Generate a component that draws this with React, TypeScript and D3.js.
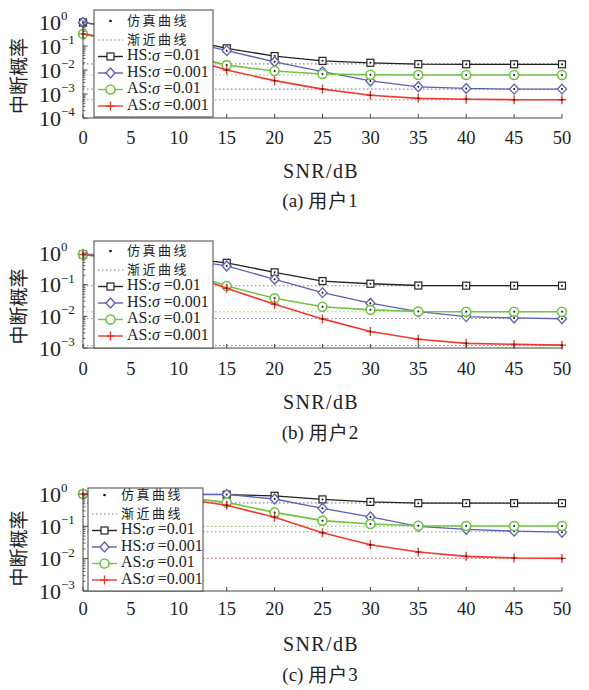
import React from 'react';
import * as d3 from 'd3';

// SNR 横轴
const snr = [0, 5, 10, 15, 20, 25, 30, 35, 40, 45, 50];
const xTicks = [0, 5, 10, 15, 20, 25, 30, 35, 40, 45, 50];

// 用户1
const u1HS01 = [0.95, 0.55, 0.22, 0.08, 0.038, 0.024, 0.02, 0.0175, 0.0173, 0.0173, 0.0173];
const u1HS001 = [0.95, 0.5, 0.19, 0.064, 0.022, 0.0085, 0.0035, 0.002, 0.0017, 0.0016, 0.0016];
const u1AS01 = [0.32, 0.15, 0.05, 0.016, 0.0091, 0.0068, 0.0063, 0.0062, 0.0062, 0.0062, 0.0062];
const u1AS001 = [0.32, 0.13, 0.04, 0.01, 0.0036, 0.0016, 0.00089, 0.00066, 0.0006, 0.00058, 0.00058];
const u1Asym = [0.018, 0.0016, 0.0062, 0.00058];

// 用户2
const u2HS01 = [0.9, 0.85, 0.72, 0.49, 0.245, 0.13, 0.107, 0.094, 0.093, 0.093, 0.093];
const u2HS001 = [0.9, 0.83, 0.65, 0.39, 0.148, 0.056, 0.026, 0.014, 0.0098, 0.0089, 0.0084];
const u2AS01 = [0.9, 0.6, 0.3, 0.091, 0.037, 0.02, 0.016, 0.0142, 0.014, 0.014, 0.014];
const u2AS001 = [0.9, 0.58, 0.27, 0.077, 0.024, 0.0083, 0.0033, 0.0019, 0.0014, 0.0013, 0.00123];
const u2Asym = [0.092, 0.0085, 0.014, 0.0012];

// 用户3
const u3HS01 = [1, 1, 0.98, 0.95, 0.88, 0.68, 0.57, 0.52, 0.52, 0.52, 0.52];
const u3HS001 = [1, 1, 0.98, 0.97, 0.7, 0.36, 0.195, 0.1, 0.081, 0.071, 0.066];
const u3AS01 = [1, 0.95, 0.8, 0.55, 0.27, 0.15, 0.118, 0.104, 0.102, 0.102, 0.102];
const u3AS001 = [1, 0.93, 0.74, 0.45, 0.19, 0.063, 0.027, 0.016, 0.0118, 0.0105, 0.0102];
const u3Asym = [0.53, 0.068, 0.1, 0.0102];

const seriesNames = ['HS', 'HS', 'AS', 'AS'];
const sigmaLabels = ['0.01', '0.001', '0.01', '0.001'];
const colors = ['#222222', '#5a60b4', '#72c244', '#f03a2e'];
const markers = ['square', 'diamond', 'circle', 'plus'];
const captionTags = ['(a) ', '(b) ', '(c) '];
const captionUsers = ['1', '2', '3'];

const serif = '"Liberation Serif", "Times New Roman", serif';
const cjk = '"Noto Sans CJK SC", sans-serif';

type Layout = {
  top: number; bottom: number; minExp: number;
  tickY: number; snrY: number; capY: number;
  lx: number; ly: number; lw: number; lh: number; row0: number;
};

const layouts: Layout[] = [
  { top: 22, bottom: 118, minExp: -4, tickY: 140, snrY: 173, capY: 203, lx: 94, ly: 10, lw: 119, lh: 107, row0: 12 },
  { top: 253, bottom: 348, minExp: -3, tickY: 371, snrY: 404, capY: 435, lx: 94, ly: 241, lw: 119, lh: 107, row0: 11 },
  { top: 494, bottom: 591, minExp: -3, tickY: 611, snrY: 646, capY: 677, lx: 88, ly: 488, lw: 115, lh: 103, row0: 8 },
];
const rowOffsets = [-1, 18, 34.5, 51, 67.5, 84];

const panelData = [
  [u1HS01, u1HS001, u1AS01, u1AS001],
  [u2HS01, u2HS001, u2AS01, u2AS001],
  [u3HS01, u3HS001, u3AS01, u3AS001],
];
const panelAsym = [u1Asym, u2Asym, u3Asym];

const x = d3.scaleLinear().domain([0, 50]).range([83, 562]);

function Marker({ kind, cx, cy, color }: { kind: string; cx: number; cy: number; color: string }) {
  if (kind === 'square') return <rect x={cx - 3.5} y={cy - 3.5} width={7} height={7} fill="white" stroke={color} strokeWidth={1.2} />;
  if (kind === 'diamond') return <path d={`M${cx},${cy - 5}L${cx + 4.5},${cy}L${cx},${cy + 5}L${cx - 4.5},${cy}Z`} fill="white" stroke={color} strokeWidth={1.3} />;
  if (kind === 'circle') return <circle cx={cx} cy={cy} r={4.5} fill="white" stroke={color} strokeWidth={1.6} />;
  return <path d={`M${cx - 4},${cy}H${cx + 4}M${cx},${cy - 4.5}V${cy + 4.5}`} stroke={color} strokeWidth={1.4} fill="none" />;
}

function Panel({ idx }: { idx: number }) {
  const L = layouts[idx];
  const data = panelData[idx];
  const asym = panelAsym[idx];
  const y = d3.scaleLog().domain([Math.pow(10, L.minExp), 1]).range([L.bottom, L.top]);
  const line = d3.line<number>().x((_, i) => x(snr[i])).y(d => y(d));
  const exps = d3.range(L.minExp, 1);
  const minor: number[] = [];
  exps.slice(0, -1).forEach(e => { for (let k = 2; k < 10; k++) minor.push(k * Math.pow(10, e)); });
  const sampleX0 = L.lx + 4, sampleX1 = L.lx + 29, textX = L.lx + 33;
  const rowY = (i: number) => L.ly + L.row0 + rowOffsets[i];

  return (
    <g>
      {/* 渐近线 */}
      {asym.map((v, i) => (
        <line key={'a' + i} x1={x(0)} x2={x(50)} y1={y(v)} y2={y(v)} stroke={colors[i]} strokeOpacity={i === 0 ? 0.55 : 0.75}
          strokeWidth={1.1} strokeDasharray="1.5,2.5" />
      ))}
      {/* 曲线 */}
      {data.map((s, i) => (
        <g key={'s' + i}>
          <path d={line(s) || ''} fill="none" stroke={colors[i]} strokeWidth={i === 2 || i === 3 ? 1.6 : 1.3} />
          {s.map((v, j) => <Marker key={j} kind={markers[i]} cx={x(snr[j])} cy={y(v)} color={colors[i]} />)}
          {s.map((v, j) => <circle key={'d' + j} cx={x(snr[j])} cy={y(v)} r={1} fill="#111" />)}
        </g>
      ))}
      {/* 坐标轴 */}
      <line x1={x(0)} x2={x(0)} y1={L.top - 2} y2={L.bottom} stroke="#444" strokeWidth={1} />
      <line x1={x(0)} x2={x(50)} y1={L.bottom} y2={L.bottom} stroke="#444" strokeWidth={1} />
      {xTicks.map(t => (
        <g key={'xt' + t}>
          <line x1={x(t)} x2={x(t)} y1={L.bottom} y2={L.bottom - 4} stroke="#444" />
          <text x={x(t)} y={L.tickY} textAnchor="middle" dominantBaseline="middle" fontFamily={serif} fontSize={18.5} fill="#222">{t}</text>
        </g>
      ))}
      {minor.map((m, i) => <line key={'m' + i} x1={x(0)} x2={x(0) + 2.5} y1={y(m)} y2={y(m)} stroke="#444" strokeWidth={0.8} />)}
      {exps.map(e => (
        <g key={'yt' + e}>
          <line x1={x(0)} x2={x(0) + 4.5} y1={y(Math.pow(10, e))} y2={y(Math.pow(10, e))} stroke="#444" />
          <text x={39} y={y(Math.pow(10, e)) + 7.5} fontFamily={serif} fontSize={22} fill="#222">
            10<tspan dy={-9.5} fontSize={13}>{e === 0 ? '0' : '\u2212' + Math.abs(e)}</tspan>
          </text>
        </g>
      ))}
      <text transform={`translate(21,${(L.top + L.bottom) / 2 + 6}) rotate(-90)`} textAnchor="middle" dominantBaseline="middle"
        fontFamily={cjk} fontSize={19} fill="#222">中断概率</text>
      <text x={321} y={L.snrY} textAnchor="middle" dominantBaseline="middle" fontFamily={serif} fontSize={20} letterSpacing={1.4} fill="#222">SNR/dB</text>
      <text x={320} y={L.capY} textAnchor="middle" dominantBaseline="middle" fontSize={19} fill="#222">
        <tspan fontFamily={serif}>{captionTags[idx]}</tspan>
        <tspan fontFamily={cjk} letterSpacing={1}>用户</tspan>
        <tspan fontFamily={serif}>{captionUsers[idx]}</tspan>
      </text>
      {/* 图例 */}
      <rect x={L.lx} y={L.ly} width={L.lw} height={L.lh} fill="white" stroke="#444" strokeWidth={1} />
      <circle cx={(sampleX0 + sampleX1) / 2} cy={rowY(0)} r={1.3} fill="#111" />
      <line x1={sampleX0} x2={sampleX1} y1={rowY(1)} y2={rowY(1)} stroke="#777" strokeWidth={1.1} strokeDasharray="1.5,2.5" />
      <text x={textX} y={rowY(0)} dominantBaseline="middle" fontFamily={cjk} fontSize={13} letterSpacing={2.5} fill="#222">仿真曲线</text>
      <text x={textX} y={rowY(1)} dominantBaseline="middle" fontFamily={cjk} fontSize={13} letterSpacing={2.5} fill="#222">渐近曲线</text>
      {seriesNames.map((n, i) => (
        <g key={'l' + i}>
          <line x1={sampleX0} x2={sampleX1} y1={rowY(i + 2)} y2={rowY(i + 2)} stroke={colors[i]} strokeWidth={1.4} />
          <Marker kind={markers[i]} cx={(sampleX0 + sampleX1) / 2} cy={rowY(i + 2)} color={colors[i]} />
          <text x={textX} y={rowY(i + 2)} dominantBaseline="middle" fontFamily={serif} fontSize={16} fill="#222">
            {n + ':'}<tspan fontStyle="italic">σ</tspan>{' =' + sigmaLabels[i]}
          </text>
        </g>
      ))}
    </g>
  );
}

export default function App() {
  return (
    <svg width={589} height={690} style={{ position: 'absolute', left: 0, top: 0, background: 'white' }}>
      <rect width={589} height={690} fill="white" />
      {[0, 1, 2].map(i => <Panel key={i} idx={i} />)}
    </svg>
  );
}
